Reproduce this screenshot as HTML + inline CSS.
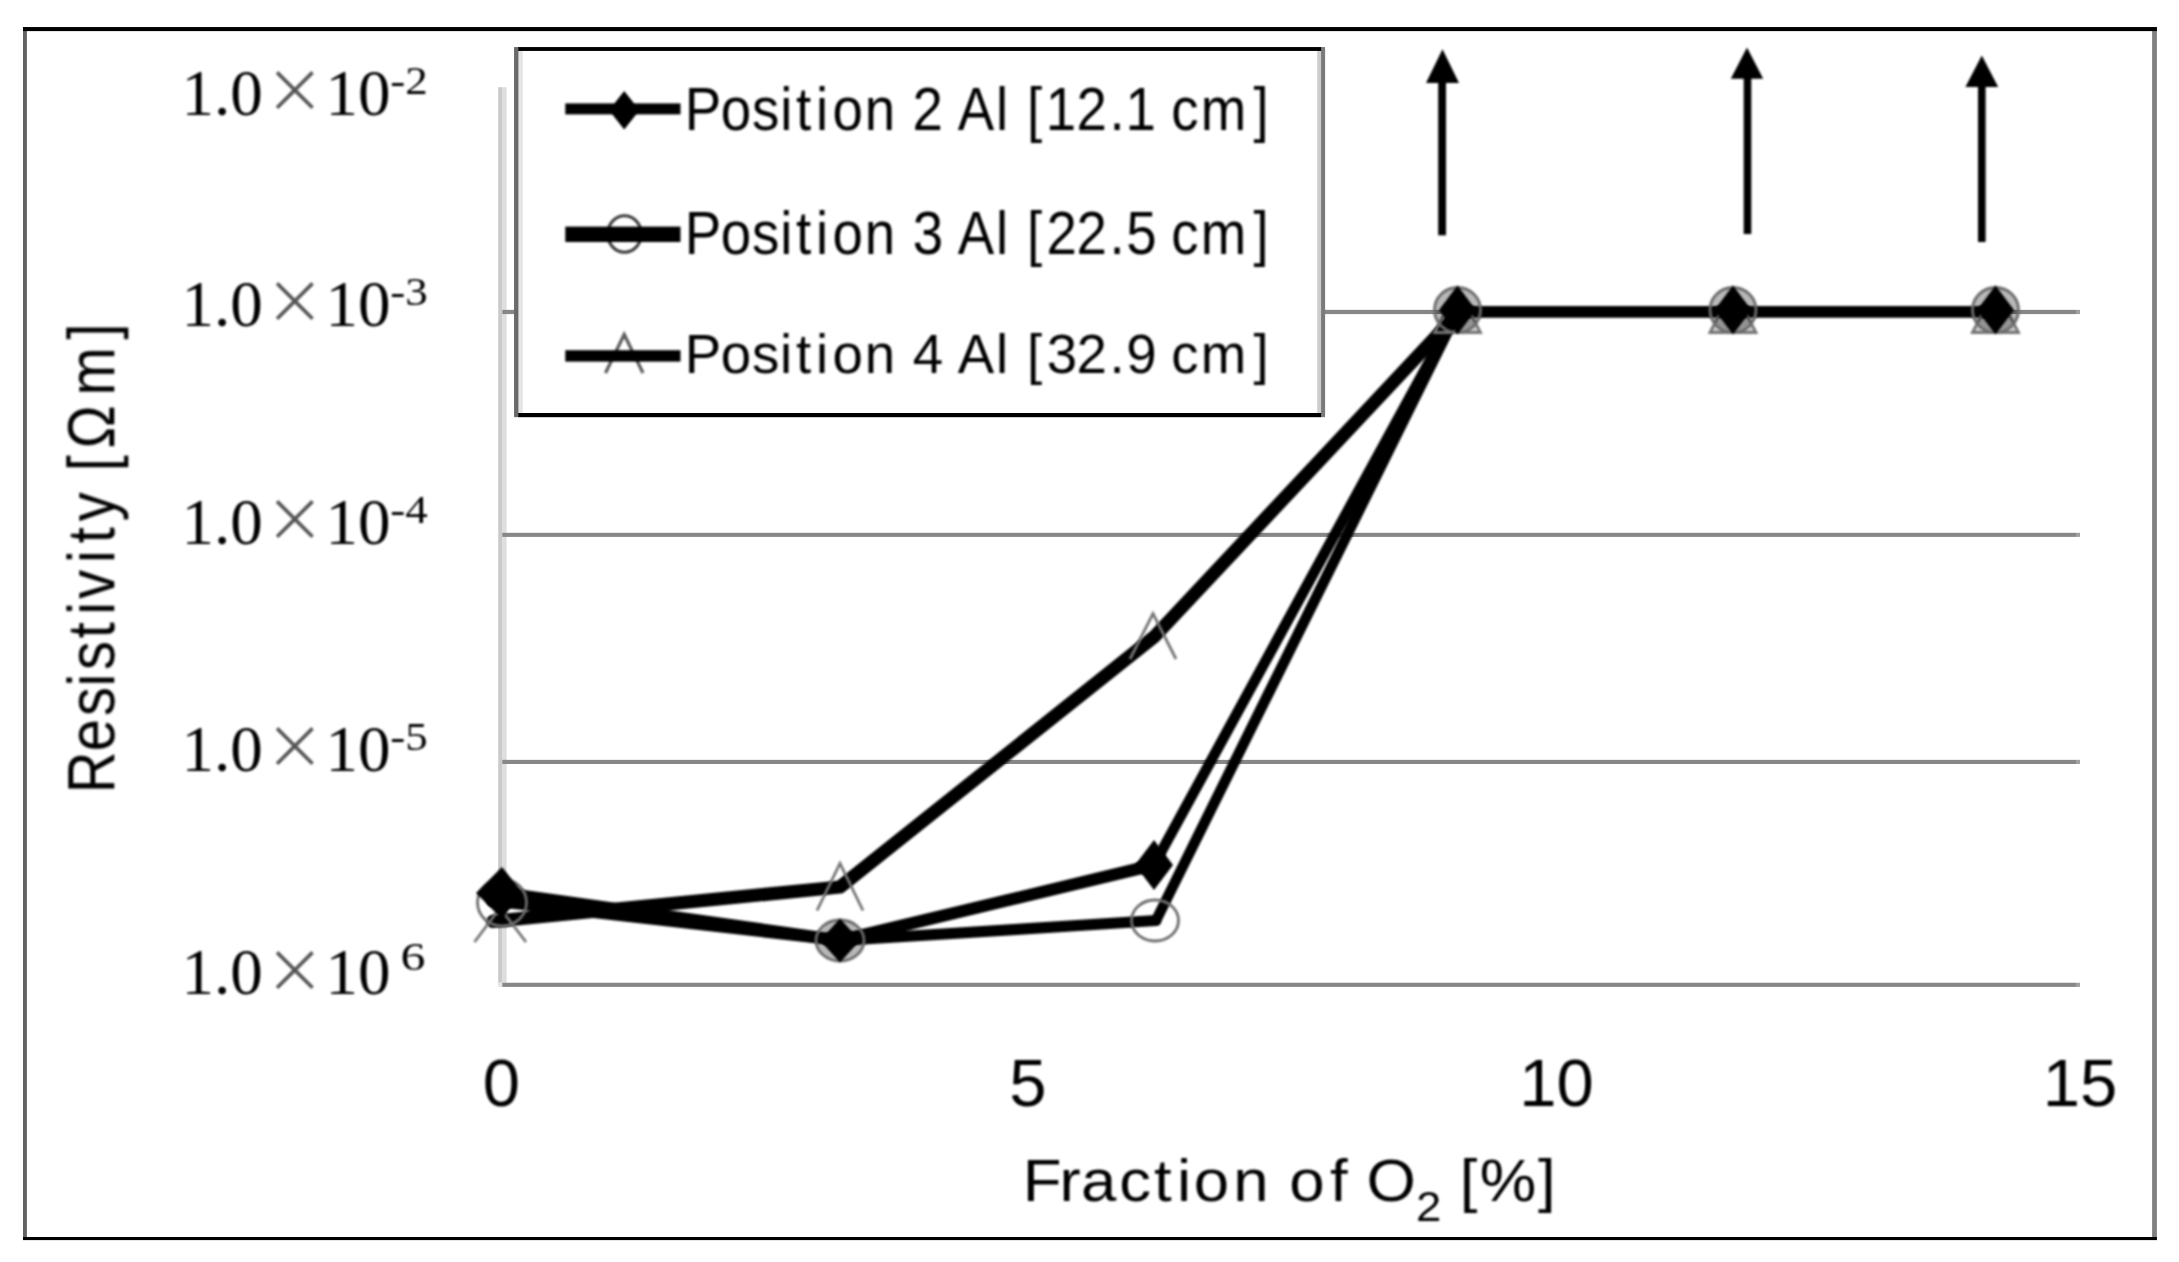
<!DOCTYPE html>
<html lang="en">
<head>
<meta charset="utf-8">
<title>Resistivity vs Fraction of O2</title>
<style>
  html, body { margin: 0; padding: 0; background: #ffffff; }
  body { width: 2179px; height: 1262px; overflow: hidden; }
  svg { display: block; }
  .sans { font-family: "Liberation Sans", sans-serif; fill: #000; }
  .serif { font-family: "Liberation Serif", serif; fill: #000; }
</style>
</head>
<body>
<svg width="2179" height="1262" viewBox="0 0 2179 1262">
  <defs>
    <filter id="soft" filterUnits="userSpaceOnUse" x="0" y="0" width="2179" height="1262" color-interpolation-filters="sRGB">
      <feGaussianBlur stdDeviation="0.85"/>
    </filter>
  </defs>
  <rect x="0" y="0" width="2179" height="1262" fill="#ffffff"/>

  <!-- outer frame -->
  <g id="frame">
    <rect x="23" y="27" width="3.9" height="1213" fill="#626262"/>
    <rect x="2152.1" y="27" width="4.8" height="1213" fill="#808080"/>
    <rect x="23" y="27.05" width="2133.9" height="4.05" fill="#000000"/>
    <rect x="23" y="1237" width="2133.9" height="3.1" fill="#000000"/>
  </g>

  <!-- axes and gridlines -->
  <g id="grid">
    <rect x="498.2" y="87.2" width="4.3" height="895.6" fill="#cacaca"/>
    <rect x="502.5" y="87.2" width="4.1" height="895.6" fill="#dedede"/>
    <rect x="498.2" y="982.8" width="4.3" height="4.1" fill="#e4e4e4"/>
    <rect x="502.3" y="309.85" width="1573.7" height="4.25" fill="#878787"/>
    <rect x="2076" y="309.85" width="4" height="4.25" fill="#a0a0a0"/>
    <rect x="502.3" y="532.8" width="1573.7" height="4.1" fill="#878787"/>
    <rect x="2076" y="532.8" width="4" height="4.1" fill="#a0a0a0"/>
    <rect x="502.3" y="759.85" width="1573.7" height="4.15" fill="#878787"/>
    <rect x="2076" y="759.85" width="4" height="4.15" fill="#a0a0a0"/>
    <rect x="502.3" y="982.75" width="1573.7" height="4.15" fill="#878787"/>
    <rect x="2076" y="982.75" width="4" height="4.15" fill="#a0a0a0"/>
  </g>

  <!-- data series -->
  <g id="series" filter="url(#soft)" fill="none" stroke="#000000" stroke-width="12" stroke-linejoin="round" stroke-linecap="round">
    <polyline points="493,921.3 840,887 1154.5,636.5 1459,311.9" stroke-width="13.2"/>
    <polyline points="492,900.9 840,940.5 1156,920.5" stroke-width="11.2"/>
    <polyline points="1156,920.5 1457.5,311.9" stroke-width="10.6"/>
    <polyline points="502,893 840,940.5 1154,865" stroke-width="12.2"/>
    <polyline points="1154,865 1456.5,311.9" stroke-width="10.6"/>
    <polyline points="1457,311.9 1732.5,311.9 1995,311.9" stroke-width="11.8" stroke-linecap="butt"/>
  </g>

  <!-- markers -->
  <g id="markers" filter="url(#soft)">
    <!-- triangles (open) -->
    <g fill="none" stroke="#747474" stroke-width="2.8">
      <path d="M474.5,942 L500,908 L526,942"/>
      <path d="M817,910.5 L840,863.5 L863,910.5"/>
      <path d="M1130,659 L1153,613.5 L1176,659"/>
      <path d="M1434.5,332.5 L1457.5,288 L1480.5,332.5 Z" fill="#000000" fill-opacity="0.2"/>
      <path d="M1710,332.5 L1733,288 L1756,332.5 Z" fill="#000000" fill-opacity="0.2"/>
      <path d="M1972.5,332.5 L1995.5,288 L2018.5,332.5 Z" fill="#000000" fill-opacity="0.2"/>
    </g>
    <!-- circles -->
    <g fill="none" stroke="#6c6c6c" stroke-width="2.8">
      <ellipse cx="502" cy="902.5" rx="24.5" ry="23.5"/>
      <ellipse cx="840" cy="940.5" rx="24" ry="20.5" fill="#000000" fill-opacity="0.28"/>
      <ellipse cx="1155" cy="920.5" rx="23.5" ry="20.5"/>
      <ellipse cx="1457.5" cy="310" rx="23" ry="22.5" fill="#000000" fill-opacity="0.28"/>
      <ellipse cx="1733" cy="310" rx="23" ry="22.5" fill="#000000" fill-opacity="0.28"/>
      <ellipse cx="1995.5" cy="310" rx="23" ry="22.5" fill="#000000" fill-opacity="0.28"/>
    </g>
    <!-- diamonds -->
    <g fill="#000000" stroke="none">
      <path d="M502,867 L522,892 L502,919 L476,893 Z"/>
      <path d="M840,918.5 L860,940.5 L840,962.5 L820,940.5 Z"/>
      <path d="M1154,840 L1173,865 L1154,890 L1135,865 Z"/>
      <path d="M1457.5,285.5 L1476,310 L1457.5,334.5 L1439,310 Z"/>
      <path d="M1733,285.5 L1751.5,310 L1733,334.5 L1714.5,310 Z"/>
      <path d="M1995.5,285.5 L2014,310 L1995.5,334.5 L1977,310 Z"/>
    </g>
  </g>

  <!-- arrows -->
  <g id="arrows" filter="url(#soft)" fill="#000000">
    <rect x="1438.2" y="80" width="7.8" height="155.3"/>
    <path d="M1442.5,49.3 L1459,82.9 L1426,82.9 Z"/>
    <rect x="1743.7" y="76" width="7.6" height="158"/>
    <path d="M1747,47.6 L1763.2,78.8 L1730.8,78.8 Z"/>
    <rect x="1978" y="84" width="7.6" height="158"/>
    <path d="M1981.8,55.6 L1998.2,87.1 L1965.4,87.1 Z"/>
  </g>

  <!-- legend -->
  <g id="legend">
    <rect x="516" y="49" width="807" height="366" fill="#ffffff"/>
    <rect x="518.4" y="50" width="4.4" height="364" fill="#e5e5e5"/>
    <rect x="1317.2" y="50" width="3.9" height="364" fill="#cdcdcd"/>
    <rect x="514.05" y="47.05" width="4.4" height="370.1" fill="#696969"/>
    <rect x="1321.05" y="47.05" width="4.05" height="370.1" fill="#7a7a7a"/>
    <rect x="518.2" y="47.05" width="802.9" height="3.9" fill="#000000"/>
    <rect x="518.2" y="413" width="802.9" height="4.2" fill="#000000"/>

    <g id="legend-items" filter="url(#soft)">
    <!-- sample 1 -->
    <rect x="565.3" y="103.4" width="115.2" height="11" fill="#000000"/>
    <path d="M624.2,91 L639.5,110.3 L624.2,129.6 L609,110.3 Z" fill="#000000"/>
    <!-- sample 2 -->
    <ellipse cx="624.5" cy="234" rx="16.8" ry="18.2" fill="none" stroke="#3c3c3c" stroke-width="3"/>
    <rect x="565.3" y="226.6" width="115.2" height="15.4" fill="#000000"/>
    <!-- sample 3 -->
    <path d="M605.5,373 L624.2,334.5 L643,373" fill="none" stroke="#5a5a5a" stroke-width="3.2"/>
    <rect x="565.3" y="350.2" width="115.2" height="11.4" fill="#000000"/>

    <text class="sans" transform="scale(0.9036,1)" x="757.9 797.7 832.3 863.4 880.9 903.0 921.4 956.9 990.5 1009.9 1043.5 1059.9 1102.4 1115.8 1136.6 1157.3 1191.4 1228.0 1245.7 1279.3 1296.2 1328.9 1387.2" y="130.2" font-size="60.5">Position 2 Al [12.1 cm]</text>
    <text class="sans" transform="scale(0.9036,1)" x="757.9 797.7 832.3 863.4 880.9 903.0 921.4 956.9 990.5 1010.0 1043.7 1059.9 1102.4 1115.8 1136.6 1158.2 1191.4 1228.0 1246.5 1280.2 1296.2 1328.9 1387.2" y="253.6" font-size="60.5">Position 3 Al [22.5 cm]</text>
    <text class="sans" transform="scale(0.9850,1)" x="695.3 731.7 763.5 792.0 808.1 828.4 845.3 877.8 908.7 926.6 957.5 972.3 1011.3 1023.6 1042.6 1062.6 1092.9 1126.5 1143.5 1174.3 1189.1 1219.1 1272.6" y="373.2" font-size="55.5">Position 4 Al [32.9 cm]</text>
    </g>
  </g>

  <!-- y tick labels -->
  <g id="yticks" class="serif" font-size="65" filter="url(#soft)">
    <text y="114.5"><tspan x="181.5">1.0</tspan><tspan x="264" y="113.3" font-size="73.5" font-family="'DejaVu Sans', 'Liberation Sans', sans-serif" font-weight="200" fill="#555">×</tspan><tspan x="325.5" y="114.5">10</tspan><tspan x="390.3" y="93.5" font-size="40" textLength="37.5" lengthAdjust="spacingAndGlyphs">-2</tspan></text>
    <text y="325.5"><tspan x="181.5">1.0</tspan><tspan x="264" y="324.3" font-size="73.5" font-family="'DejaVu Sans', 'Liberation Sans', sans-serif" font-weight="200" fill="#555">×</tspan><tspan x="325.5" y="325.5">10</tspan><tspan x="390.3" y="304.5" font-size="40" textLength="37.5" lengthAdjust="spacingAndGlyphs">-3</tspan></text>
    <text y="543.5"><tspan x="181.5">1.0</tspan><tspan x="264" y="542.3" font-size="73.5" font-family="'DejaVu Sans', 'Liberation Sans', sans-serif" font-weight="200" fill="#555">×</tspan><tspan x="325.5" y="543.5">10</tspan><tspan x="390.3" y="522.5" font-size="40" textLength="37.5" lengthAdjust="spacingAndGlyphs">-4</tspan></text>
    <text y="770.5"><tspan x="181.5">1.0</tspan><tspan x="264" y="769.3" font-size="73.5" font-family="'DejaVu Sans', 'Liberation Sans', sans-serif" font-weight="200" fill="#555">×</tspan><tspan x="325.5" y="770.5">10</tspan><tspan x="390.3" y="749.5" font-size="40" textLength="37.5" lengthAdjust="spacingAndGlyphs">-5</tspan></text>
    <text y="994"><tspan x="181.5">1.0</tspan><tspan x="264" y="992.8" font-size="73.5" font-family="'DejaVu Sans', 'Liberation Sans', sans-serif" font-weight="200" fill="#555">×</tspan><tspan x="325.5" y="994">10</tspan><tspan x="388" y="970" font-size="40" textLength="37.5" lengthAdjust="spacingAndGlyphs"> 6</tspan></text>
  </g>

  <!-- x tick labels -->
  <g id="xticks" class="sans" font-size="67" text-anchor="middle" filter="url(#soft)">
    <text x="501.5" y="1105.5">0</text>
    <text x="1028" y="1105.5">5</text>
    <text x="1556.5" y="1105.5">10</text>
    <text x="2080" y="1105.5">15</text>
  </g>

  <!-- axis titles -->
  <g id="titles" filter="url(#soft)">
    <text class="sans" transform="scale(1.0597,1)" x="965.1 999.8 1020.0 1056.2 1089.1 1110.8 1126.5 1163.8 1197.1 1216.6 1255.0 1271.7 1289.5" y="1201.2" font-size="60">Fraction of O<tspan x="1336.3" y="1221" font-size="43">2</tspan><tspan x="1363.6 1377.6 1396.3 1451.3" y="1201.2"> [%]</tspan></text>
    <text class="sans" transform="translate(114.3,787.2) rotate(-90) scale(0.8731,1)" x="-6.9 41.1 81.6 115.3 134.1 170.4 197.4 215.8 256.8 279.2 304.6 337.8 361.8 387.8 448.7 512.8" y="0" font-size="66.5">Resistivity [Ωm]</text>
  </g>
</svg>
</body>
</html>
